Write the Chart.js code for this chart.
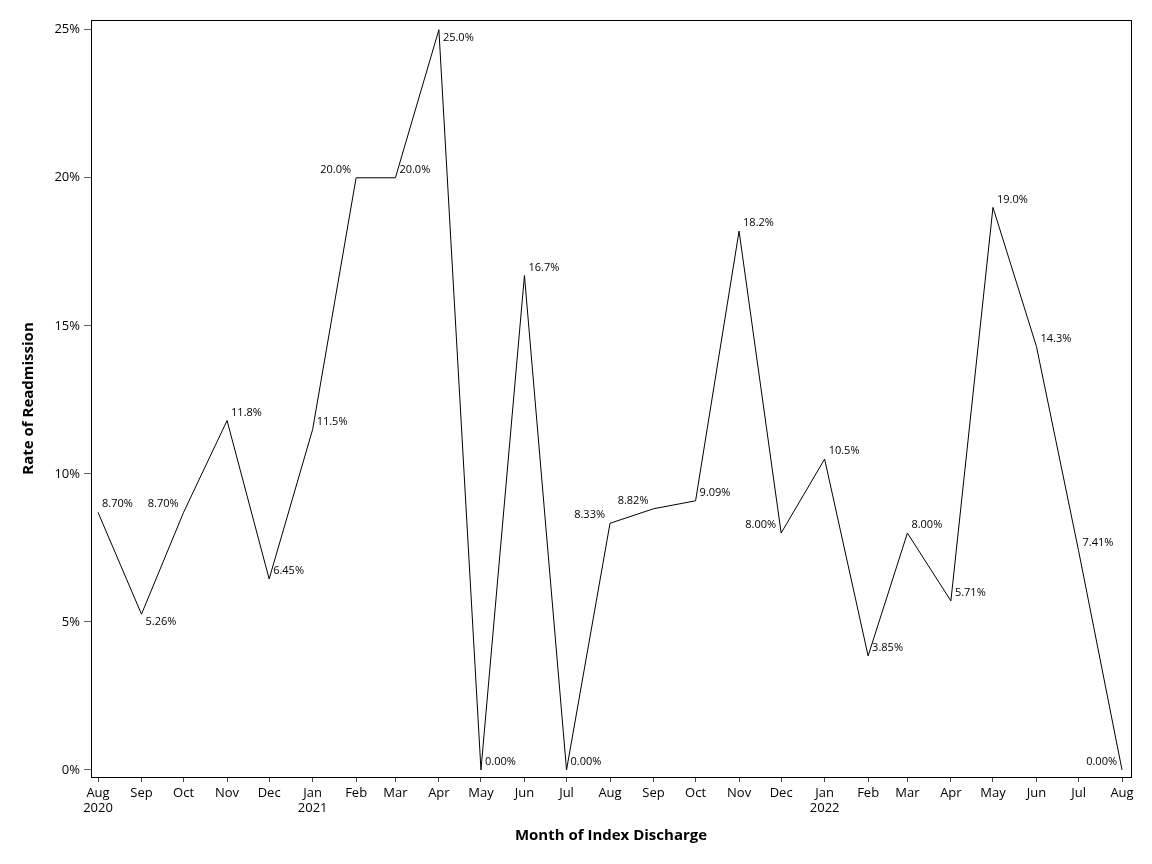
<!DOCTYPE html>
<html lang="en">
<head>
<meta charset="UTF-8">
<title>Rate of Readmission</title>
<script src="https://cdn.jsdelivr.net/npm/chart.js"></script>
<style>
    body{
        margin:0;
        padding:0;
        background:#fff;
        font-family:"Open Sans",sans-serif;
    }
    .chart-box{
        width:1152px;
        height:864px;
        position:relative;
    }
</style>
</head>
<body>
<div class="chart-box">
    <canvas id="readmitChart"></canvas>
</div>

<script>
/* data */
const months=['2020-08','2020-09','2020-10','2020-11','2020-12','2021-01','2021-02','2021-03','2021-04',
              '2021-05','2021-06','2021-07','2021-08','2021-09','2021-10','2021-11','2021-12','2022-01',
              '2022-02','2022-03','2022-04','2022-05','2022-06','2022-07','2022-08'];
const rates=[8.70,5.26,8.70,11.8,6.45,11.5,20.0,20.0,25.0,
             0.00,16.7,0.00,8.33,8.82,9.09,18.2,8.00,10.5,
             3.85,8.00,5.71,19.0,14.3,7.41,0.00];
const rateLabels=['8.70%','5.26%','8.70%','11.8%','6.45%','11.5%','20.0%','20.0%','25.0%',
                  '0.00%','16.7%','0.00%','8.33%','8.82%','9.09%','18.2%','8.00%','10.5%',
                  '3.85%','8.00%','5.71%','19.0%','14.3%','7.41%','0.00%'];
/* where each value label sits next to its point */
const labelPos=['ne','se','nw','ne','ne','ne','nw','ne','se',
                'ne','ne','ne','nw','nw','ne','ne','nw','ne',
                'ne','ne','ne','ne','ne','ne','nw'];
const monthNames=['Jan','Feb','Mar','Apr','May','Jun','Jul','Aug','Sep','Oct','Nov','Dec'];
const yTicks=[0,5,10,15,20,25];

/* months -> days since first month (x axis is a day scale, like a time axis) */
const start=Date.UTC(2020,7,1);
const dayOf=m=>{
    const [y,mo]=m.split('-').map(Number);
    return Math.round((Date.UTC(y,mo-1,1)-start)/86400000);
};
const xDays=months.map(dayOf);
const points=months.map((m,i)=>({x:xDays[i],y:rates[i]}));

/* frame round the plot area */
const frame={
    id:'frame',
    afterDraw(chart){
        const {ctx,chartArea:a}=chart;
        ctx.save();
        ctx.strokeStyle='#000';
        ctx.lineWidth=1;
        ctx.strokeRect(Math.round(a.left)+.5,Math.round(a.top)+.5,
                       Math.round(a.right-a.left),Math.round(a.bottom-a.top));
        ctx.restore();
    }
};

/* value labels */
const valueLabels={
    id:'valueLabels',
    afterDatasetsDraw(chart){
        const {ctx}=chart;
        const meta=chart.getDatasetMeta(0);
        ctx.save();
        ctx.font='11px "Open Sans", sans-serif';
        ctx.fillStyle='#000';
        ctx.textBaseline='middle';
        meta.data.forEach((pt,i)=>{
            const p=labelPos[i];
            const dy=p[0]==='n'?-8:8;
            if(p[1]==='e'){ctx.textAlign='left';ctx.fillText(rateLabels[i],pt.x+4,pt.y+dy);}
            else{ctx.textAlign='right';ctx.fillText(rateLabels[i],pt.x-5,pt.y+dy);}
        });
        ctx.restore();
    }
};

const tickFont={family:'"Open Sans", sans-serif',size:13};
const titleFont={family:'"Open Sans", sans-serif',size:15,weight:'bold'};

new Chart(document.getElementById('readmitChart'),{
    type:'line',
    data:{
        datasets:[{
            label:'Rate of Readmission',
            data:points,
            borderColor:'#000',
            borderWidth:1,
            pointRadius:0,
            tension:0,
            fill:false
        }]
    },
    options:{
        responsive:true,
        maintainAspectRatio:false,
        animation:false,
        layout:{padding:{top:20,right:21,left:0,bottom:0}},
        plugins:{legend:{display:false},tooltip:{enabled:false}},
        scales:{
            x:{
                type:'linear',
                min:-5,
                max:736.4,
                afterFit:s=>{s.height=87;},
                afterBuildTicks:s=>{s.ticks=xDays.map(v=>({value:v}));},
                grid:{drawOnChartArea:false,drawTicks:true,tickLength:5,color:'#444'},
                border:{display:false},
                ticks:{
                    color:'#000',
                    font:tickFont,
                    padding:3,
                    maxRotation:0,
                    autoSkip:false,
                    callback:(v,i)=>{
                        const [y,mo]=months[i].split('-').map(Number);
                        const name=monthNames[mo-1];
                        return (i===0||mo===1)&&i!==months.length-1?[name,String(y)]:name;
                    }
                },
                title:{display:true,text:'Month of Index Discharge',color:'#000',font:titleFont,padding:{top:0,bottom:19}}
            },
            y:{
                min:-0.24,
                max:25.33,
                afterFit:s=>{s.width=91;},
                afterBuildTicks:s=>{s.ticks=yTicks.map(v=>({value:v}));},
                grid:{drawOnChartArea:false,drawTicks:true,tickLength:7,color:'#666'},
                border:{display:false},
                ticks:{
                    color:'#000',
                    font:tickFont,
                    padding:4,
                    callback:v=>v+'%'
                },
                title:{display:true,text:'Rate of Readmission',color:'#000',font:titleFont,padding:{top:20,bottom:0}}
            }
        }
    },
    plugins:[frame,valueLabels]
});
</script>
</body>
</html>
